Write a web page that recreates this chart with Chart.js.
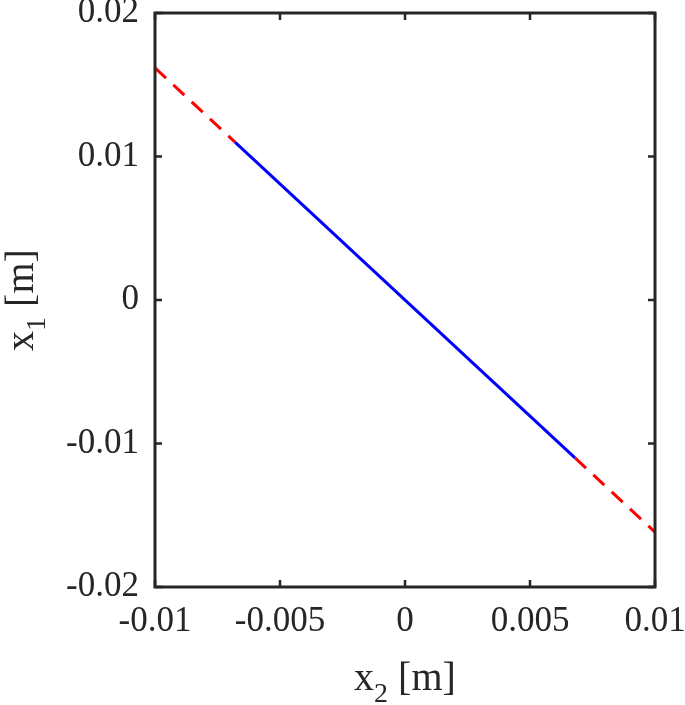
<!DOCTYPE html>
<html>
<head>
<meta charset="utf-8">
<script src="https://cdn.jsdelivr.net/npm/chart.js@4/dist/chart.umd.min.js"></script>
<style>
  body { margin: 0; background: #fff; }
</style>
</head>
<body>
<canvas id="myChart" width="685" height="705"></canvas>
<script>
// values
const blueX2 = [-0.0068, 0.0068];
const blueX1 = [0.011, -0.011];
const redLeftX2 = [-0.01, -0.0068];
const redLeftX1 = [0.01617, 0.011];
const redRightX2 = [0.0068, 0.01];
const redRightX1 = [-0.011, -0.01617];
const xTicks = [-0.01, -0.005, 0, 0.005, 0.01];
const yTicks = [-0.02, -0.01, 0, 0.01, 0.02];

const axisColor = '#262626';
const fontFamily = '"Liberation Serif", "Times New Roman", serif';

function toPoints(xs, ys) {
  return xs.map((x, i) => ({ x: x, y: ys[i] }));
}

function fmt(v) {
  return String(Number(v.toFixed(4)));
}

// no extra room for overflowing tick labels
function noPad(scale) {
  scale.paddingTop = 0;
  scale.paddingBottom = 0;
  scale.paddingLeft = 0;
  scale.paddingRight = 0;
}

// box, inward ticks and subscript titles (MATLAB style)
const boxPlugin = {
  id: 'boxPlugin',
  afterDraw(chart) {
    const c = chart.ctx;
    const a = chart.chartArea;
    const xs = chart.scales.x;
    const ys = chart.scales.y;
    const tl = 7;
    c.save();
    c.strokeStyle = axisColor;
    c.lineWidth = 2.5;
    c.beginPath();
    xTicks.forEach(v => {
      const px = xs.getPixelForValue(v);
      c.moveTo(px, a.bottom); c.lineTo(px, a.bottom - tl);
      c.moveTo(px, a.top); c.lineTo(px, a.top + tl);
    });
    yTicks.forEach(v => {
      const py = ys.getPixelForValue(v);
      c.moveTo(a.left, py); c.lineTo(a.left + tl, py);
      c.moveTo(a.right, py); c.lineTo(a.right - tl, py);
    });
    c.stroke();
    c.lineWidth = 3;
    c.strokeRect(a.left, a.top, a.right - a.left, a.bottom - a.top);

    // axis titles with subscript
    function drawTitle(main, sub, rest) {
      c.font = '40px ' + fontFamily;
      const w1 = c.measureText(main).width;
      const w3 = c.measureText(rest).width;
      c.font = '28px ' + fontFamily;
      const w2 = c.measureText(sub).width;
      const total = w1 + w2 + w3;
      let x = -total / 2;
      c.textAlign = 'left';
      c.textBaseline = 'alphabetic';
      c.fillStyle = axisColor;
      c.font = '40px ' + fontFamily;
      c.fillText(main, x, 0);
      x += w1;
      c.font = '28px ' + fontFamily;
      c.fillText(sub, x, 12);
      x += w2;
      c.font = '40px ' + fontFamily;
      c.fillText(rest, x, 0);
    }
    c.save();
    c.translate((a.left + a.right) / 2, 690);
    drawTitle('x', '2', ' [m]');
    c.restore();
    c.save();
    c.translate(33, (a.top + a.bottom) / 2);
    c.rotate(-Math.PI / 2);
    drawTitle('x', '1', ' [m]');
    c.restore();
    c.restore();
  }
};

const ctx = document.getElementById('myChart');
const chart = new Chart(ctx, {
  type: 'line',
  data: {
    datasets: [
      {
        label: 'left',
        data: toPoints(redLeftX2, redLeftX1),
        borderColor: '#ff0000',
        borderWidth: 3,
        borderDash: [15, 10],
        pointRadius: 0,
        fill: false,
      },
      {
        label: 'middle',
        data: toPoints(blueX2, blueX1),
        borderColor: '#0000ff',
        borderWidth: 3,
        pointRadius: 0,
        fill: false,
      },
      {
        label: 'right',
        data: toPoints(redRightX2, redRightX1),
        borderColor: '#ff0000',
        borderWidth: 3,
        borderDash: [15, 10],
        pointRadius: 0,
        fill: false,
      },
    ],
  },
  options: {
    responsive: false,
    animation: false,
    layout: { padding: { top: 13, right: 30, left: 0, bottom: 0 } },
    plugins: { legend: { display: false }, tooltip: { enabled: false } },
    scales: {
      x: {
        type: 'linear',
        min: -0.01,
        max: 0.01,
        afterFit: scale => { scale.height = 118; noPad(scale); },
        afterBuildTicks: scale => { scale.ticks = xTicks.map(v => ({ value: v })); },
        grid: { display: false, drawTicks: false },
        border: { display: false },
        ticks: {
          padding: 14,
          color: axisColor,
          font: { family: fontFamily, size: 35 },
          maxRotation: 0,
          callback: v => fmt(v),
        },
      },
      y: {
        type: 'linear',
        min: -0.02,
        max: 0.02,
        afterFit: scale => { scale.width = 155; noPad(scale); },
        afterBuildTicks: scale => { scale.ticks = yTicks.map(v => ({ value: v })); },
        grid: { display: false, drawTicks: false },
        border: { display: false },
        ticks: {
          padding: 16,
          color: axisColor,
          font: { family: fontFamily, size: 35 },
          callback: v => fmt(v),
        },
      },
    },
  },
  plugins: [boxPlugin],
});
</script>
</body>
</html>
